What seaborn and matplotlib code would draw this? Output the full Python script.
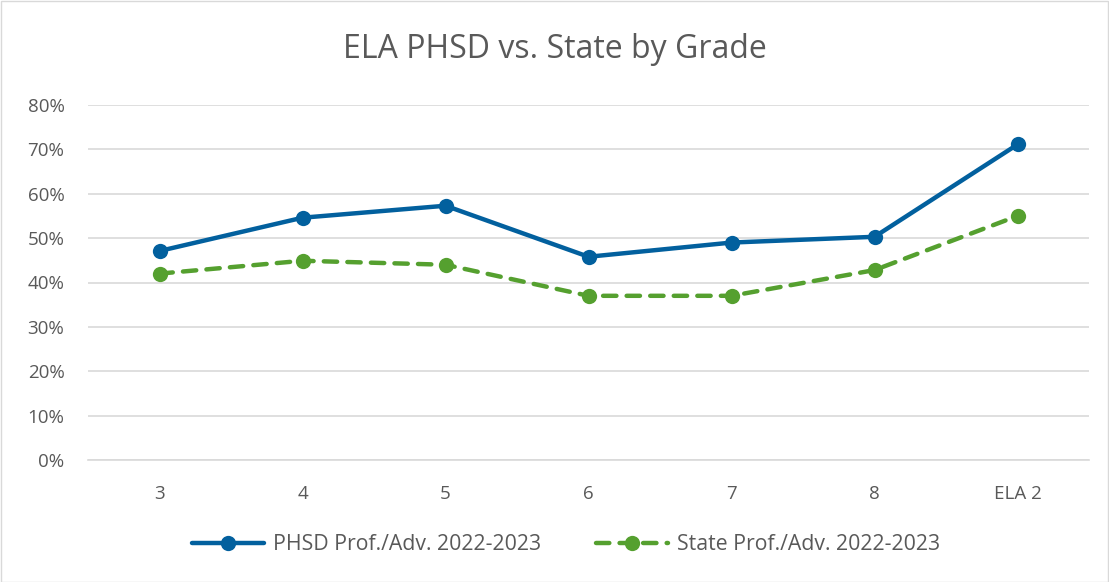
import matplotlib
matplotlib.use("Agg")
import matplotlib.pyplot as plt
import seaborn as sns
import pandas as pd
from matplotlib.patches import Rectangle
from matplotlib.ticker import FuncFormatter

grades = ["3", "4", "5", "6", "7", "8", "ELA 2"]
phsd = [0.471, 0.546, 0.573, 0.458, 0.490, 0.503, 0.711]
state = [0.420, 0.449, 0.440, 0.370, 0.370, 0.428, 0.550]
series_names = ["PHSD Prof./Adv. 2022-2023", "State Prof./Adv. 2022-2023"]
title = "ELA PHSD vs. State by Grade"

sns.set_theme(style="white")
plt.rcParams['font.family'] = ['Open Sans', 'DejaVu Sans']

df = pd.DataFrame({"grade": grades, "pos": range(len(grades)), "phsd": phsd, "state": state})

fig = plt.figure(figsize=(11.09, 5.82), dpi=100)
ax = fig.add_axes([88/1109, 1-460/582, 1001/1109, 355/582])

blue = "#02609E"
green = "#55A02F"

sns.lineplot(data=df, x="pos", y="phsd", ax=ax, color=blue, linewidth=3.2,
             marker="o", markersize=11, markeredgewidth=0, label=series_names[0])
sns.lineplot(data=df, x="pos", y="state", ax=ax, color=green, linewidth=3.2,
             marker="o", markersize=11, markeredgewidth=0, label=series_names[1],
             dashes=False)
ax.lines[1].set_dashes((3.0, 2.3))
ax.lines[1].set_dash_capstyle('round')

ax.set_xlim(-0.5, len(grades) - 0.5)
ax.set_ylim(0, 0.8)
ax.set_yticks([i / 10 for i in range(9)])
ax.yaxis.set_major_formatter(FuncFormatter(lambda v, p: f"{round(v*100)}%"))
ax.set_xticks(range(len(grades)))
ax.set_xticklabels(grades)
ax.grid(axis="y", color="#D9D9D9", linewidth=1.2)
ax.set_axisbelow(True)
for s in ["top", "right", "left"]:
    ax.spines[s].set_visible(False)
ax.spines["bottom"].set_color("#D9D9D9")
ax.spines["bottom"].set_linewidth(1.2)
ax.tick_params(axis="both", colors="#595959", labelsize=13.5, length=0)
ax.tick_params(axis="y", pad=17)
ax.tick_params(axis="x", pad=18)
ax.set_xlabel("")
ax.set_ylabel("")

fig.text(0.5, 1-49/582, title, ha="center", va="center", fontsize=23, color="#595959")

leg = ax.legend(loc="center", bbox_to_anchor=((566-88)/1001, (460-545)/355), ncol=2, frameon=False,
                fontsize=15.3, handlelength=3.4, columnspacing=2.6, handletextpad=0.4)
for t in leg.get_texts():
    t.set_color("#595959")

fig.patches.append(Rectangle((0.5/1109, 0.5/582), 1-1.5/1109, 1-1.5/582, transform=fig.transFigure,
                             fill=False, edgecolor="#D9D9D9", linewidth=1))

fig.savefig("out.png", dpi=100)
